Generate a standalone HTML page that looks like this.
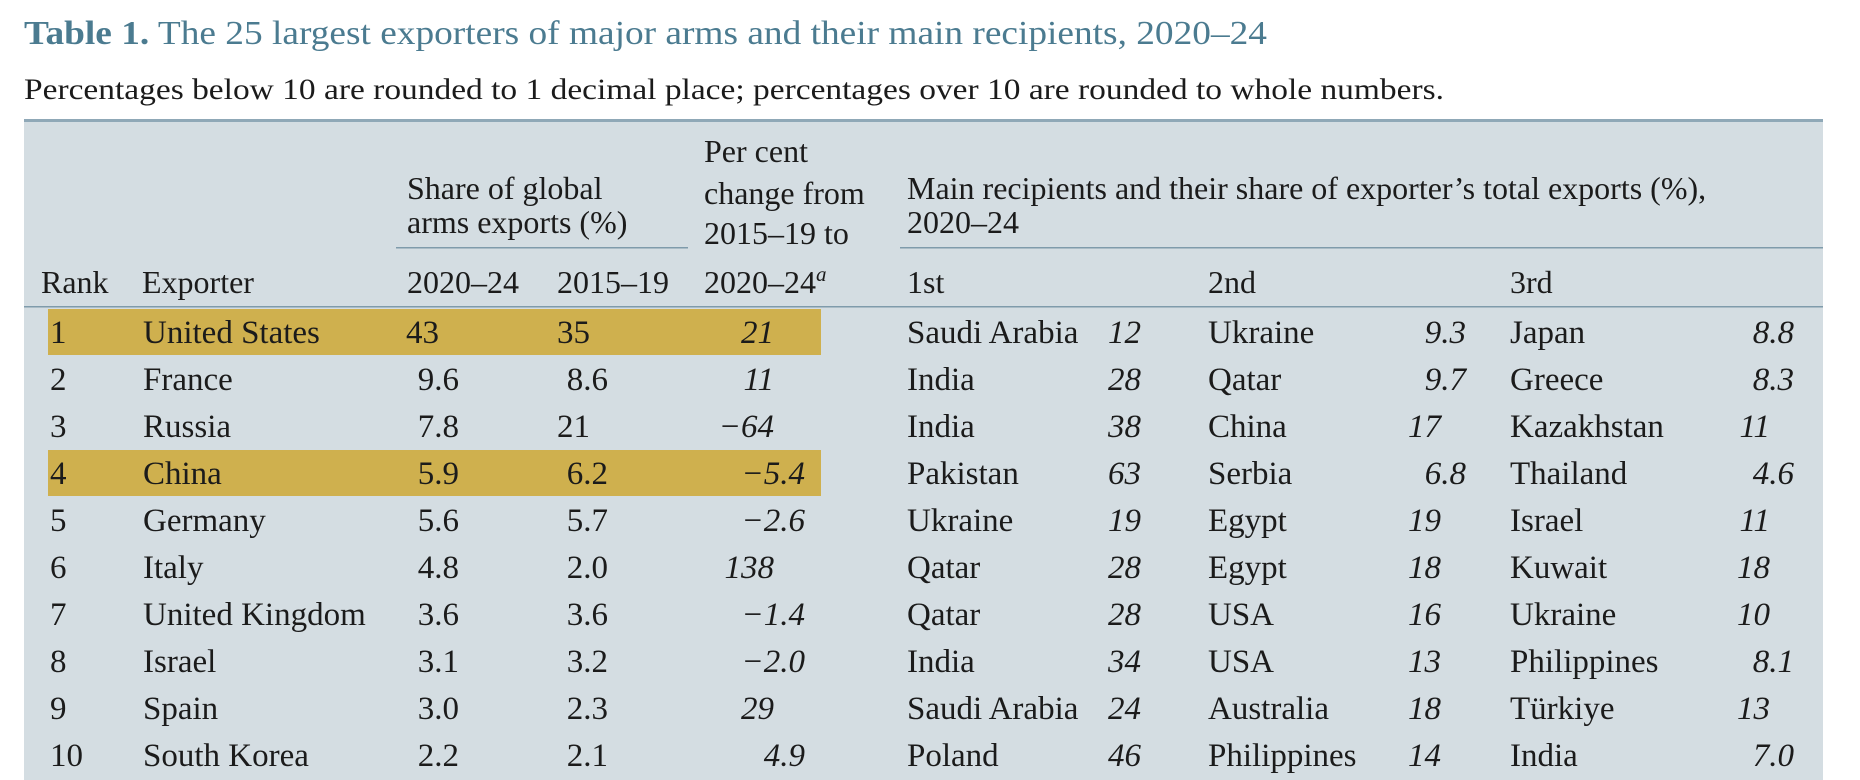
<!DOCTYPE html>
<html><head><meta charset="utf-8">
<style>
html,body{margin:0;padding:0;background:#fff;}
svg{display:block;}
text{font-family:"Liberation Serif",serif;fill:#1b1b1b;}
</style></head>
<body>
<svg id="chart" width="1860" height="780" viewBox="0 0 1860 780" xmlns="http://www.w3.org/2000/svg">
  <text x="24" y="44" font-size="34" style="fill:#4b7b90" textLength="1243" lengthAdjust="spacingAndGlyphs"><tspan font-weight="bold" style="fill:#4b7b90">Table 1.</tspan> The 25 largest exporters of major arms and their main recipients, 2020–24</text>
  <text x="24" y="99" font-size="30" textLength="1420" lengthAdjust="spacingAndGlyphs">Percentages below 10 are rounded to 1 decimal place; percentages over 10 are rounded to whole numbers.</text>
  <rect x="24" y="120" width="1799" height="660" fill="#d4dde2"/>
  <rect x="24" y="119" width="1799" height="3" fill="#8fa8b7"/>
  <g id="header">
    <text x="407" y="199" font-size="32">Share of global</text>
    <text x="407" y="233" font-size="32">arms exports (%)</text>
    <text x="704" y="162" font-size="32">Per cent</text>
    <text x="704" y="204" font-size="32">change from</text>
    <text x="704" y="244" font-size="32">2015–19 to</text>
    <text x="907" y="199" font-size="32">Main recipients and their share of exporter’s total exports (%),</text>
    <text x="907" y="233" font-size="32">2020–24</text>
    <rect x="396" y="247" width="292" height="1.5" fill="#7f9bab"/>
    <rect x="900" y="247" width="923" height="1.5" fill="#7f9bab"/>
    <text x="41" y="293" font-size="32">Rank</text>
    <text x="142" y="293" font-size="32">Exporter</text>
    <text x="407" y="293" font-size="32">2020–24</text>
    <text x="557" y="293" font-size="32">2015–19</text>
    <text x="704" y="293" font-size="32">2020–24<tspan font-style="italic" font-size="21" dy="-12">a</tspan></text>
    <text x="907" y="293" font-size="32">1st</text>
    <text x="1208" y="293" font-size="32">2nd</text>
    <text x="1510" y="293" font-size="32">3rd</text>
    <rect x="24" y="306" width="1799" height="1.5" fill="#7f9bab"/>
  </g>
  <g id="rows"></g>
</svg>
<script>
const ranks = [1,2,3,4,5,6,7,8,9,10];
const exporters = ["United States","France","Russia","China","Germany","Italy","United Kingdom","Israel","Spain","South Korea"];
const share2024 = ["43","9.6","7.8","5.9","5.6","4.8","3.6","3.1","3.0","2.2"];
const share2019 = ["35","8.6","21","6.2","5.7","2.0","3.6","3.2","2.3","2.1"];
const changePct = ["21","11","−64","−5.4","−2.6","138","−1.4","−2.0","29","4.9"];
const rec1Names = ["Saudi Arabia","India","India","Pakistan","Ukraine","Qatar","Qatar","India","Saudi Arabia","Poland"];
const rec1Vals = ["12","28","38","63","19","28","28","34","24","46"];
const rec2Names = ["Ukraine","Qatar","China","Serbia","Egypt","Egypt","USA","USA","Australia","Philippines"];
const rec2Vals = ["9.3","9.7","17","6.8","19","18","16","13","18","14"];
const rec3Names = ["Japan","Greece","Kazakhstan","Thailand","Israel","Kuwait","Ukraine","Philippines","Türkiye","India"];
const rec3Vals = ["8.8","8.3","11","4.6","11","18","10","8.1","13","7.0"];
const highlighted = [true,false,false,true,false,false,false,false,false,false];

const NS = "http://www.w3.org/2000/svg";
const g = document.getElementById("rows");
const rowY = i => 343 + i * 47;
const FS = 33;

function txt(x, y, s, anchor, italic, name) {
  const t = document.createElementNS(NS, "text");
  t.setAttribute("x", x);
  t.setAttribute("y", y);
  t.setAttribute("font-size", FS);
  if (anchor) t.setAttribute("text-anchor", anchor);
  if (italic) t.setAttribute("font-style", "italic");
  t.textContent = s;
  
  
  g.appendChild(t);
  return t;
}
function num(s, intEnd, decEnd, y, italic, name) {
  const x = s.indexOf(".") >= 0 ? decEnd : intEnd;
  return txt(x, y, s, "end", italic, name);
}

highlighted.forEach((h, i) => {
  if (!h) return;
  const r = document.createElementNS(NS, "rect");
  r.setAttribute("x", 48);
  r.setAttribute("y", rowY(i) - 34);
  r.setAttribute("width", 773);
  r.setAttribute("height", 46);
  r.setAttribute("fill", "#cfb04e");
  
  
  g.appendChild(r);
});

exporters.forEach((ex, i) => {
  const y = rowY(i);
  txt(50, y, String(ranks[i]), null, false, "rank-cell");
  txt(143, y, ex, null, false, "exporter-cell");
  num(share2024[i], 439, 459, y, false, "share-2020-24-cell");
  num(share2019[i], 590, 608, y, false, "share-2015-19-cell");
  num(changePct[i], 774, 805, y, true, "percent-change-cell");
  txt(907, y, rec1Names[i], null, false, "first-recipient-cell");
  num(rec1Vals[i], 1141, 1164, y, true, "first-recipient-share-cell");
  txt(1208, y, rec2Names[i], null, false, "second-recipient-cell");
  num(rec2Vals[i], 1441, 1466, y, true, "second-recipient-share-cell");
  txt(1510, y, rec3Names[i], null, false, "third-recipient-cell");
  num(rec3Vals[i], 1770, 1794, y, true, "third-recipient-share-cell");
});
</script>
</body></html>
